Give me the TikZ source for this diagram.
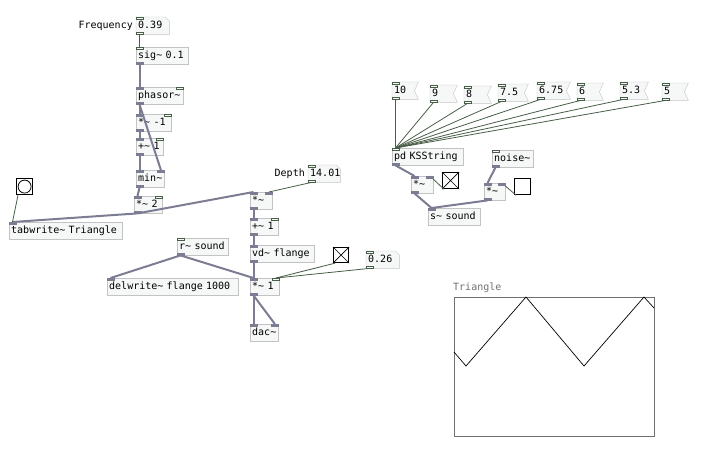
\documentclass[tikz,border=0pt]{standalone}
\usepackage{fontspec}
\setmonofont{DejaVu Sans Mono}
\usepackage{xcolor}
\usetikzlibrary{positioning,backgrounds}

\definecolor{boxfill}{RGB}{246,248,248}
\definecolor{boxline}{RGB}{195,195,195}
\definecolor{sigwire}{RGB}{124,124,146}
\definecolor{ctlwire}{RGB}{72,94,72}
\definecolor{graphline}{RGB}{112,112,112}

\newcommand{\pdfont}{\ttfamily\fontsize{10}{12}\selectfont}
% ports: left inlet, right inlet, outlet
\newcommand{\pdinl}[2][sigio]{\filldraw[#1] (#2.north west) rectangle ++(7,2.5);}
\newcommand{\pdinr}[2][sigio]{\filldraw[#1] ([xshift=-7pt]#2.north east) rectangle ++(7,2.5);}
\newcommand{\pdout}[2][sigio]{\filldraw[#1] (#2.south west) rectangle ++(7,-2.5);}

\begin{document}
\begin{tikzpicture}[
    x=1pt, y=-1pt,
    obj/.style={draw=boxline, fill=boxfill, anchor=north west, inner xsep=2pt, inner ysep=0pt,
        minimum height=17pt, text width=#1, align=left, font=\pdfont, text height=7pt, text depth=2.4pt},
    flat/.style={obj=#1, draw=none, fill=none},
    lbl/.style={font=\pdfont, inner sep=0pt},
    sigio/.style={draw=sigwire, fill=sigwire, line width=0.6pt},
    ctlio/.style={draw=ctlwire, fill=boxfill, line width=0.6pt},
    sigcord/.style={draw=sigwire, line width=2pt},
    ctlcord/.style={draw=ctlwire, line width=0.8pt},
    gui/.style={draw=black, line width=1.2pt, minimum size=15pt, inner sep=0pt, anchor=north west}
]
\useasboundingbox (0,0) rectangle (709,453);

% Triangle generator
\node[flat=29pt] (nfreq) at (136,17) {0.39};
\node[lbl, left=3pt of nfreq] (lfreq) {Frequency};
\node[obj=48pt] (sig) at (136,47) {sig\string~ 0.1};
\node[obj=43pt] (phasor) at (136,87) {phasor\string~};
\node[obj=31pt] (mul1) at (136,114) {*\string~ -1};
\node[obj=23pt] (add1) at (136,138) {+\string~ 1};
\node[obj=24pt] (min) at (136,170) {min\string~};
\node[obj=24pt] (mul2) at (134,196) {*\string~ 2};
\node[gui, minimum size=16pt] (bang) at (16,178) {};
\draw[line width=0.8pt] (bang.center) circle (6.5);
\node[obj=109pt] (tabw) at (9,222) {tabwrite\string~ Triangle};

% Flanger
\node[flat=28pt] (ndepth) at (308,165) {14.01};
\node[lbl, left=3pt of ndepth] (ldepth) {Depth};
\node[obj=18pt] (mul3) at (250,192) {*\string~};
\node[obj=24pt] (add2) at (250,218) {+\string~ 1};
\node[obj=60pt] (vd) at (250,245) {vd\string~ flange};
\node[gui] (tgla) at (333,247) {};
\draw[line width=0.7pt] (tgla.north west) -- (tgla.south east) (tgla.north east) -- (tgla.south west);
\node[flat=29pt] (nmix) at (366,251) {0.26};
\node[obj=25pt] (mul4) at (250,278) {*\string~ 1};
\node[obj=24pt] (dac) at (250,324) {dac\string~};
\node[obj=47pt] (rsound) at (177,238) {r\string~ sound};
\node[obj=127pt] (delw) at (107,278) {delwrite\string~ flange 1000};

% Karplus-Strong string
\node[flat=22pt] (m10) at (392,82) {10};
\node[flat=23pt] (m9) at (430,85) {9};
\node[flat=23pt] (m8) at (464,86) {8};
\node[flat=26pt] (m75) at (498,84) {7.5};
\node[flat=29pt] (m675) at (537,82) {6.75};
\node[flat=22pt] (m6) at (577,83) {6};
\node[flat=24pt] (m53) at (620,82) {5.3};
\node[flat=22pt] (m5) at (662,83) {5};
\node[obj=67pt] (pdks) at (392,148) {pd KSString};
\node[obj=18pt] (mul5) at (411,176) {*\string~};
\node[gui, minimum size=16pt] (tglb) at (442,172) {};
\draw[line width=0.7pt] (tglb.north west) -- (tglb.south east) (tglb.north east) -- (tglb.south west);
\node[obj=37pt] (noise) at (492,150) {noise\string~};
\node[obj=17pt] (mul6) at (484,183) {*\string~};
\node[gui, minimum size=16pt] (tglc) at (514,178) {};
\node[obj=48pt] (ssound) at (428,208) {s\string~ sound};

% Array
\node[draw=graphline, line width=0.8pt, minimum width=200pt, minimum height=139pt,
    inner sep=0pt, anchor=north west] (tri) at (454,297) {};
\node[lbl, text=graphline, anchor=south west] (ltri) at (453,293) {Triangle};
\draw[line width=0.7pt] (454,352) -- (466,366) -- (526,297) -- (584,366) -- (644,297) -- (654,308);

% Box outlines
\begin{scope}[on background layer]
\foreach \m in {m10,m9,m8,m75,m675,m6,m53,m5}
    \draw[draw=boxline, fill=boxfill] (\m.north west) -- (\m.north east)
        -- ([xshift=-4pt]\m.east) -- (\m.south east) -- (\m.south west) -- cycle;
\foreach \m in {nfreq,ndepth,nmix}
    \draw[draw=boxline, fill=boxfill] (\m.north west) -- ([xshift=-4pt]\m.north east)
        -- ([yshift=-4pt]\m.north east) -- (\m.south east) -- (\m.south west) -- cycle;
\end{scope}

% Connections
\draw[ctlcord] ([xshift=3.5pt]nfreq.south west) -- ([xshift=3.5pt]sig.north west);
\draw[sigcord] ([xshift=3.5pt]sig.south west) -- ([xshift=3.5pt]phasor.north west);
\draw[sigcord] ([xshift=3.5pt]phasor.south west) -- ([xshift=3.5pt]mul1.north west);
\draw[sigcord] ([xshift=3.5pt]phasor.south west) -- ([xshift=-3.5pt]min.north east);
\draw[sigcord] ([xshift=3.5pt]mul1.south west) -- ([xshift=3.5pt]add1.north west);
\draw[sigcord] ([xshift=3.5pt]add1.south west) -- ([xshift=3.5pt]min.north west);
\draw[sigcord] ([xshift=3.5pt]min.south west) -- ([xshift=3.5pt]mul2.north west);
\draw[sigcord] ([xshift=3.5pt]mul2.south west) -- ([xshift=3.5pt]tabw.north west);
\draw[sigcord] ([xshift=3.5pt]mul2.south west) -- ([xshift=3.5pt]mul3.north west);
\draw[ctlcord] ([xshift=2pt]bang.south west) -- ([xshift=3.5pt]tabw.north west);

\draw[ctlcord] ([xshift=3.5pt]ndepth.south west) -- ([xshift=-3.5pt]mul3.north east);
\draw[sigcord] ([xshift=3.5pt]mul3.south west) -- ([xshift=3.5pt]add2.north west);
\draw[sigcord] ([xshift=3.5pt]add2.south west) -- ([xshift=3.5pt]vd.north west);
\draw[sigcord] ([xshift=3.5pt]vd.south west) -- ([xshift=3.5pt]mul4.north west);
\draw[ctlcord] ([xshift=2pt]tgla.south west) -- ([xshift=-3.5pt]mul4.north east);
\draw[ctlcord] ([xshift=3.5pt]nmix.south west) -- ([xshift=-3.5pt]mul4.north east);
\draw[sigcord] ([xshift=3.5pt]rsound.south west) -- ([xshift=3.5pt]delw.north west);
\draw[sigcord] ([xshift=3.5pt]rsound.south west) -- ([xshift=3.5pt]mul4.north west);
\draw[sigcord] ([xshift=3.5pt]mul4.south west) -- ([xshift=3.5pt]dac.north west);
\draw[sigcord] ([xshift=3.5pt]mul4.south west) -- ([xshift=-3.5pt]dac.north east);

\foreach \m in {m10,m9,m8,m75,m675,m6,m53,m5}
    \draw[ctlcord] ([xshift=3.5pt]\m.south west) -- ([xshift=3.5pt]pdks.north west);
\draw[sigcord] ([xshift=3.5pt]pdks.south west) -- ([xshift=3.5pt]mul5.north west);
\draw[ctlcord] ([xshift=2pt]tglb.south west) -- ([xshift=-3.5pt]mul5.north east);
\draw[sigcord] ([xshift=3.5pt]mul5.south west) -- ([xshift=3.5pt]ssound.north west);
\draw[sigcord] ([xshift=3.5pt]noise.south west) -- ([xshift=3.5pt]mul6.north west);
\draw[ctlcord] ([xshift=2pt]tglc.south west) -- ([xshift=-3.5pt]mul6.north east);
\draw[sigcord] ([xshift=3.5pt]mul6.south west) -- ([xshift=3.5pt]ssound.north west);

% Ports
\foreach \n in {phasor,mul1,add1,min,mul2,tabw,mul3,add2,vd,mul4,dac,delw,mul5,mul6,ssound}
    \pdinl{\n};
\foreach \n in {min,mul3,dac,mul5,mul6}
    \pdinr{\n};
\foreach \n in {phasor,mul1,add1,mul2,add2,mul4}
    \pdinr[ctlio]{\n};
\foreach \n in {nfreq,sig,ndepth,nmix,rsound,pdks,noise,m10,m9,m8,m75,m675,m6,m53,m5}
    \pdinl[ctlio]{\n};
\foreach \n in {sig,phasor,mul1,add1,min,mul2,mul3,add2,vd,mul4,rsound,pdks,mul5,noise,mul6}
    \pdout{\n};
\foreach \n in {nfreq,ndepth,nmix,m10,m9,m8,m75,m675,m6,m53,m5}
    \pdout[ctlio]{\n};

\end{tikzpicture}
\end{document}
